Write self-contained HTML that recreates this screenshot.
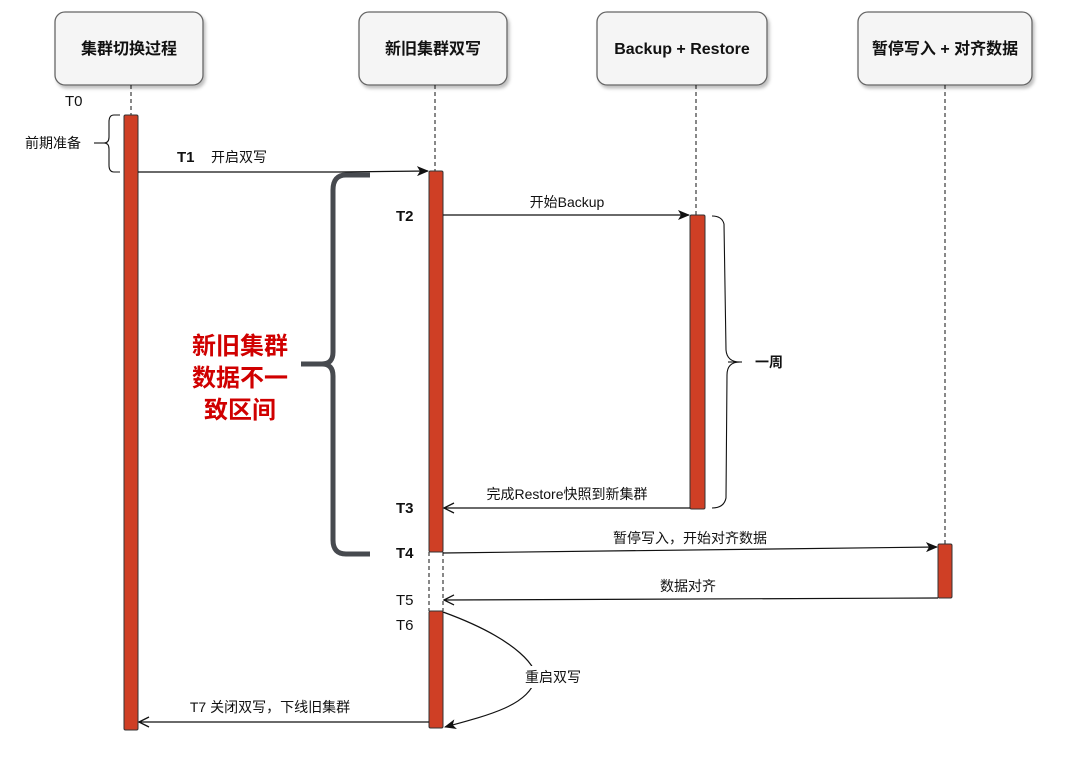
<!DOCTYPE html>
<html><head><meta charset="utf-8"><style>
html,body{margin:0;padding:0;background:#fff;}
text{font-family:"Liberation Sans","Noto Sans CJK SC",sans-serif;fill:#111;}
</style></head><body>
<svg width="1080" height="767" viewBox="0 0 1080 767" xmlns="http://www.w3.org/2000/svg">
<defs>
<filter id="sh" x="-10%" y="-10%" width="130%" height="140%"><feDropShadow dx="2" dy="3" stdDeviation="1.5" flood-color="#000" flood-opacity="0.25"/></filter>
<marker id="fa" markerWidth="12" markerHeight="10" refX="11" refY="5" orient="auto" markerUnits="userSpaceOnUse"><path d="M0,0 L12,5 L0,10 L3,5 Z" fill="#111"/></marker>
<marker id="oa" markerWidth="12" markerHeight="12" refX="1" refY="6" orient="auto" markerUnits="userSpaceOnUse"><path d="M11,1 L1,6 L11,11" fill="none" stroke="#111" stroke-width="1.3"/></marker>
</defs>
<!-- boxes -->
<g filter="url(#sh)" fill="#f5f5f5" stroke="#666" stroke-width="1.3">
<rect x="55" y="12" width="148" height="73" rx="10"/>
<rect x="359" y="12" width="148" height="73" rx="10"/>
<rect x="597" y="12" width="170" height="73" rx="10"/>
<rect x="858" y="12" width="174" height="73" rx="10"/>
</g>
<g font-size="16" font-weight="bold" text-anchor="middle">
<text x="129" y="54">集群切换过程</text>
<text x="433" y="54">新旧集群双写</text>
<text x="682" y="54">Backup + Restore</text>
<text x="945" y="54">暂停写入 + 对齐数据</text>
</g>
<!-- lifelines -->
<g stroke="#111" stroke-width="1" stroke-dasharray="4,3" fill="none">
<line x1="131" y1="85" x2="131" y2="115"/>
<line x1="435" y1="85" x2="435" y2="171"/>
<line x1="696" y1="85" x2="696" y2="215"/>
<line x1="945" y1="85" x2="945" y2="544"/>
<line x1="429" y1="552" x2="429" y2="611"/>
<line x1="443" y1="552" x2="443" y2="611"/>
</g>
<!-- activations -->
<g fill="#cf3f25" stroke="#333" stroke-width="1">
<rect x="124" y="115" width="14" height="615" rx="1.5"/>
<rect x="429" y="171" width="14" height="381" rx="1.5"/>
<rect x="429" y="611" width="14" height="117" rx="1.5"/>
<rect x="690" y="215" width="15" height="294" rx="1.5"/>
<rect x="938" y="544" width="14" height="54" rx="1.5"/>
</g>
<!-- arrows -->
<g stroke="#111" stroke-width="1.2" fill="none">
<path d="M138,172 L340,172 L428,171" marker-end="url(#fa)"/>
<line x1="443" y1="215" x2="689" y2="215" marker-end="url(#fa)"/>
<line x1="690" y1="508" x2="444" y2="508" marker-start="none" marker-end="url(#oa2)"/>
<line x1="443" y1="553" x2="937" y2="547" marker-end="url(#fa)"/>
<path d="M443,612 C520,640 540,670 535,680 C528,705 490,715 445,727" marker-end="url(#fa)"/>
</g>
<defs><marker id="oa2" markerWidth="12" markerHeight="12" refX="11" refY="6" orient="auto" markerUnits="userSpaceOnUse"><path d="M1,1 L11,6 L1,11" fill="none" stroke="#111" stroke-width="1.3"/></marker></defs>
<g stroke="#111" stroke-width="1.2" fill="none">
<line x1="938" y1="598" x2="444" y2="600" marker-end="url(#oa2)"/>
<line x1="429" y1="722" x2="139" y2="722" marker-end="url(#oa2)"/>
</g>
<rect x="515" y="666" width="76" height="22" fill="#fff"/>
<!-- braces -->
<path d="M120,115 L114,115 Q109,115 109,122 L109,137 Q109,143 104,143 Q109,143 109,149 L109,165 Q109,172 114,172 L120,172" fill="none" stroke="#111" stroke-width="1.1"/>
<line x1="94" y1="143" x2="104" y2="143" stroke="#111" stroke-width="1.1"/>
<path d="M712,216 Q722,216 724,224 L726,350 Q727,362 740,362 Q727,362 727,375 L726,498 Q724,508 712,508" fill="none" stroke="#111" stroke-width="1.1"/>
<line x1="728" y1="362" x2="742" y2="362" stroke="#111" stroke-width="1.1"/>
<path d="M370,175 L346,175 Q333,175 333,190 L333,352 Q333,364 322,364 L301,364 M322,364 Q333,364 333,376 L333,540 Q333,554 346,554 L370,554" fill="none" stroke="#474a4f" stroke-width="5"/>
<!-- labels -->
<g font-size="14">
<text x="65" y="106" font-size="15">T0</text>
<text x="25" y="148">前期准备</text>
<text x="177" y="162" font-weight="bold" font-size="15">T1</text>
<text x="211" y="162">开启双写</text>
<text x="396" y="221" font-weight="bold" font-size="15">T2</text>
<text x="567" y="207" text-anchor="middle">开始Backup</text>
<text x="755" y="367" font-weight="bold">一周</text>
<text x="567" y="499" text-anchor="middle">完成Restore快照到新集群</text>
<text x="396" y="513" font-weight="bold" font-size="15">T3</text>
<text x="690" y="543" text-anchor="middle">暂停写入，开始对齐数据</text>
<text x="396" y="558" font-weight="bold" font-size="15">T4</text>
<text x="688" y="591" text-anchor="middle">数据对齐</text>
<text x="396" y="605" font-size="15">T5</text>
<text x="396" y="630" font-size="15">T6</text>
<text x="553" y="682" text-anchor="middle">重启双写</text>
<text x="270" y="712" text-anchor="middle">T7 关闭双写，下线旧集群</text>
</g>
<g font-size="24" font-weight="bold" text-anchor="middle" style="fill:#d00000">
<text x="240" y="354" style="fill:#d00000">新旧集群</text>
<text x="240" y="386" style="fill:#d00000">数据不一</text>
<text x="240" y="418" style="fill:#d00000">致区间</text>
</g>
</svg>
</body></html>
